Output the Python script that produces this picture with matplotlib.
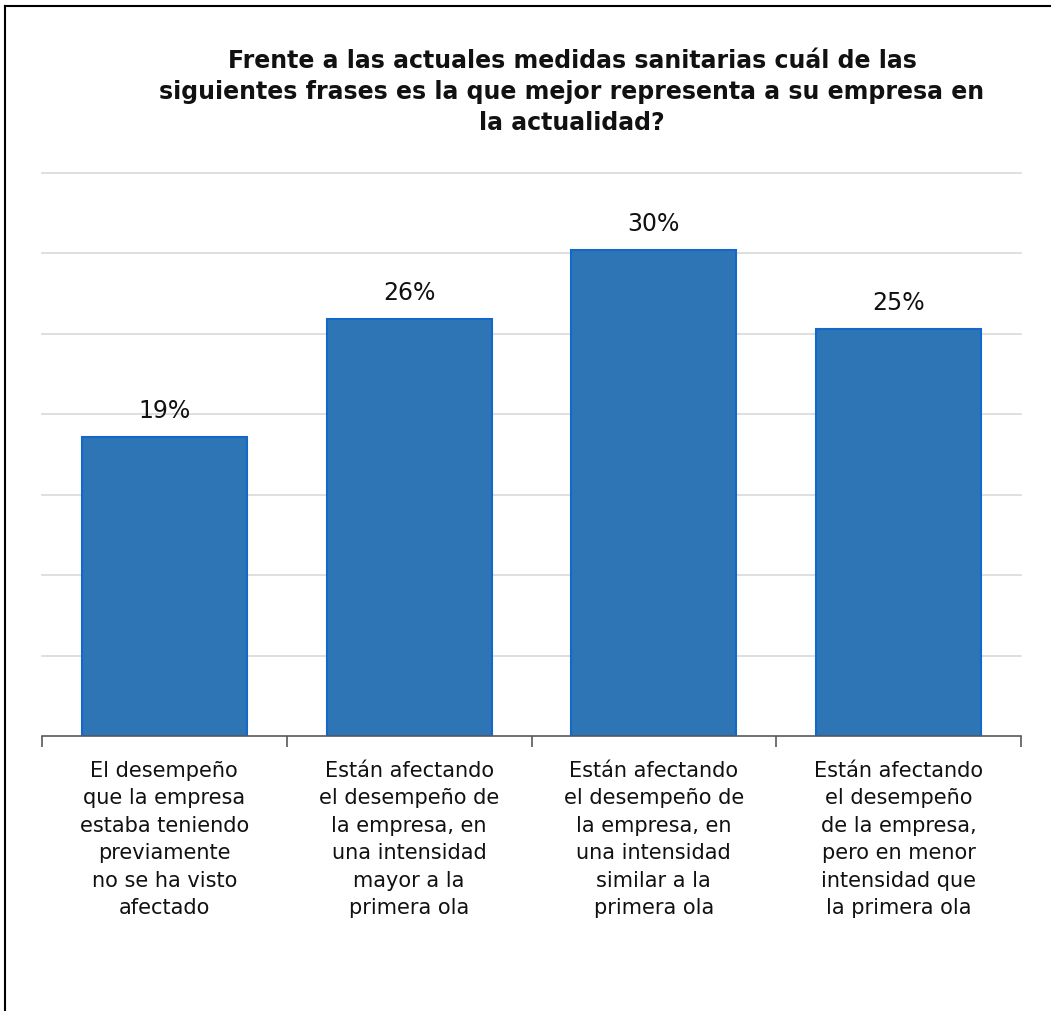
import matplotlib.pyplot as plt
from matplotlib.lines import Line2D

categories = [
    "El desempeño\nque la empresa\nestaba teniendo\npreviamente\nno se ha visto\nafectado",
    "Están afectando\nel desempeño de\nla empresa, en\nuna intensidad\nmayor a la\nprimera ola",
    "Están afectando\nel desempeño de\nla empresa, en\nuna intensidad\nsimilar a la\nprimera ola",
    "Están afectando\nel desempeño\nde la empresa,\npero en menor\nintensidad que\nla primera ola",
]
values = [18.6, 25.9, 30.2, 25.3]
labels = ["19%", "26%", "30%", "25%"]

title = ("Frente a las actuales medidas sanitarias cuál de las\n"
         "siguientes frases es la que mejor representa a su empresa en\n"
         "la actualidad?")

W, H = 1051, 1012
fig = plt.figure(figsize=(W / 100, H / 100), dpi=100)
ax = fig.add_axes([42 / W, 1 - 737 / H, (1021 - 42) / W, (737 - 174) / H])

x = list(range(len(values)))
ax.bar(x, values, width=0.675, color="#2E75B6", edgecolor="#1468CC", linewidth=1.5, zorder=3)

for xi, v, lab in zip(x, values, labels):
    ax.text(xi, v + 0.95, lab, ha="center", va="bottom", fontsize=17, color="#111111")

ax.set_xlim(-0.5, 3.5)
ax.set_ylim(0, 35)
ax.set_yticks(range(5, 36, 5))
ax.yaxis.grid(True, color="#D9D9D9", linewidth=1.2, zorder=0)
for gl in ax.get_ygridlines():
    gl.set_clip_on(False)
ax.tick_params(axis="y", length=0, labelleft=False)

ax.set_xticks([-0.5, 0.5, 1.5, 2.5, 3.5])
ax.set_xticklabels([])
ax.tick_params(axis="x", which="major", length=8, color="#595959", width=1.2)
ax.set_xticks(x, minor=True)
ax.set_xticklabels(categories, minor=True, fontsize=15, linespacing=1.47, color="#111111")
ax.tick_params(axis="x", which="minor", length=0, pad=17)

for s in ["top", "right", "left"]:
    ax.spines[s].set_visible(False)
ax.spines["bottom"].set_color("#595959")
ax.spines["bottom"].set_linewidth(1.2)
ax.spines["bottom"].set_zorder(4)

fig.text(572 / W, 1 - 92 / H, title, ha="center", va="center", fontsize=17,
         fontweight="bold", linespacing=1.35, color="#111111")

# frame lines top and left
fig.add_artist(Line2D([5 / W, 1], [1 - 7 / H, 1 - 7 / H], color="black", linewidth=1.5))
fig.add_artist(Line2D([5 / W, 5 / W], [0, 1 - 7 / H], color="black", linewidth=1.5))

fig.savefig("out.png", dpi=100)
